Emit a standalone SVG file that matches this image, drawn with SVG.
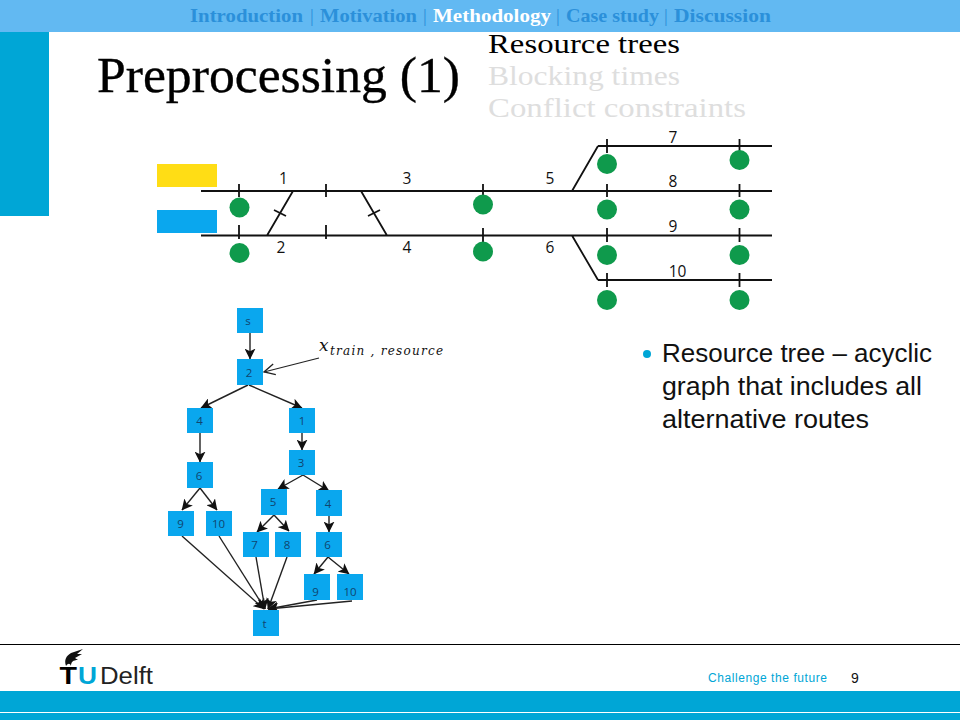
<svg xmlns="http://www.w3.org/2000/svg" width="960" height="720" viewBox="0 0 960 720">
<style>
text{font-family:"Liberation Sans",Arial,sans-serif}
.nav{font-family:"Liberation Serif",serif;font-weight:bold;font-size:19px;fill:#2b90da}
.sep{font-family:"Liberation Serif",serif;font-size:19px;fill:#2b90da}
.sub{font-family:"Liberation Serif",serif;font-size:28px;fill:#dedede}
.trk{stroke:#111;stroke-width:1.8;fill:none}
.sig{fill:#0f9a4c}
.lbl{font-family:"Open Sans",sans-serif;font-size:15.500px;fill:#111;text-anchor:middle}
.box{fill:#0aa7ee}
.nt{font-family:"Open Sans",sans-serif;font-size:11.500px;fill:#10456e;text-anchor:middle}
.e{stroke:#222;stroke-width:1.4;fill:none;marker-end:url(#ah)}
.blt{font-size:25px;fill:#111}
</style>
<defs>
<marker id="ah" viewBox="0 0 10 10" refX="9.500" refY="5" markerWidth="11" markerHeight="11" markerUnits="userSpaceOnUse" orient="auto"><path d="M0 0L10 5L0 10L2.500 5Z" fill="#111"/></marker>
<marker id="oh" viewBox="0 0 12 12" refX="11" refY="6" markerWidth="13" markerHeight="13" markerUnits="userSpaceOnUse" orient="auto"><path d="M1 1L11 6L1 11" fill="none" stroke="#222" stroke-width="1.2"/></marker>
</defs>
<rect width="960" height="720" fill="#fff"/>
<g id="header">
<rect x="0" y="0" width="960" height="32" fill="#62b9f2"/>
<rect x="0" y="32" width="49" height="184" fill="#00a6d6"/>
<text class="nav" x="190" y="22" textLength="113" lengthAdjust="spacingAndGlyphs">Introduction</text>
<text class="sep" x="310" y="22">|</text>
<text class="nav" x="320" y="22" textLength="97" lengthAdjust="spacingAndGlyphs">Motivation</text>
<text class="sep" x="423" y="22">|</text>
<text class="nav" x="433" y="22" textLength="118" lengthAdjust="spacingAndGlyphs" style="fill:#fff">Methodology</text>
<text class="sep" x="556" y="22">|</text>
<text class="nav" x="566" y="22" textLength="93" lengthAdjust="spacingAndGlyphs">Case study</text>
<text class="sep" x="664" y="22">|</text>
<text class="nav" x="674" y="22" textLength="97" lengthAdjust="spacingAndGlyphs">Discussion</text>
<text x="97" y="92" textLength="363" lengthAdjust="spacingAndGlyphs" style="font-family:'Liberation Serif',serif;font-size:50px;fill:#000;stroke:#000;stroke-width:.35">Preprocessing (1)</text>
<text class="sub" x="488" y="53" textLength="192" lengthAdjust="spacingAndGlyphs" style="fill:#000">Resource trees</text>
<text class="sub" x="488" y="85" textLength="192" lengthAdjust="spacingAndGlyphs">Blocking times</text>
<text class="sub" x="488" y="117" textLength="258" lengthAdjust="spacingAndGlyphs">Conflict constraints</text>
</g>
<g id="track-layout">
<rect x="157" y="164" width="60" height="23" fill="#ffdd15"/>
<rect x="157" y="210" width="60" height="23" fill="#0aa7ee"/>
<path class="trk" d="M201 191H772M201 235.500H772M598 146H772M598 280H772M572 191L598 146M572 235.500L598 280M293 191L267 235.500M361 191L387 235.500M274 210L286 216M368 216L380 210"/>
<path class="trk" d="M239 184V197M239 225V239M326 184V197M326 225V239M483 184V197M483 228V242M607 139V153M607 184V197M607 228V242M607 273V287M739.500 139V153M739.500 184V197M739.500 228V242M739.500 273V287"/>
<circle class="sig" cx="239.500" cy="207.500" r="10"/><circle class="sig" cx="239.500" cy="253" r="10"/>
<circle class="sig" cx="483" cy="204.500" r="10"/><circle class="sig" cx="483" cy="251.500" r="10"/>
<circle class="sig" cx="607" cy="164" r="10"/><circle class="sig" cx="739.500" cy="160" r="10"/>
<circle class="sig" cx="607" cy="209.500" r="10"/><circle class="sig" cx="739.500" cy="209.500" r="10"/>
<circle class="sig" cx="607" cy="255" r="10"/><circle class="sig" cx="739.500" cy="255" r="10"/>
<circle class="sig" cx="607" cy="300" r="10"/><circle class="sig" cx="739.500" cy="300" r="10"/>
<text class="lbl" x="283.500" y="184">1</text><text class="lbl" x="281" y="253">2</text>
<text class="lbl" x="407" y="184">3</text><text class="lbl" x="407" y="253">4</text>
<text class="lbl" x="550" y="184">5</text><text class="lbl" x="550" y="253">6</text>
<text class="lbl" x="673" y="143">7</text><text class="lbl" x="673" y="187">8</text>
<text class="lbl" x="673" y="232">9</text><text class="lbl" x="677.500" y="277">10</text>
</g>
<g id="connectors">
<path class="e" d="M250 333V359"/>
<path class="e" d="M248 385L201 408"/>
<path class="e" d="M249 385L302 408"/>
<path class="e" d="M200 433V462"/>
<path class="e" d="M302 433V450"/>
<path class="e" d="M303 475L278 489"/>
<path class="e" d="M303 475L329 491"/>
<path class="e" d="M200 488L182 510"/>
<path class="e" d="M200 488L217 510"/>
<path class="e" d="M274 515L257 532"/>
<path class="e" d="M274 515L289 531"/>
<path class="e" d="M329 516V532"/>
<path class="e" d="M328 557L314 574"/>
<path class="e" d="M328 557L349 574"/>
<path class="e" d="M182 536L264 609"/>
<path class="e" d="M219 536L265 609"/>
<path class="e" d="M256 557L265 609"/>
<path class="e" d="M287 557L268 609"/>
<path class="e" d="M317 600L268 609"/>
<path class="e" d="M352 601L268 609"/>
<path d="M319 358L264 372" stroke="#222" stroke-width="1.200" fill="none" marker-end="url(#oh)"/>
</g>
<g id="node-s"><rect class="box" x="237" y="308" width="26" height="25"/><text class="nt" x="248" y="325">s</text></g>
<g id="node-2"><rect class="box" x="237" y="359" width="26" height="26"/><text class="nt" x="249" y="377">2</text></g>
<g id="node-4a"><rect class="box" x="187" y="408" width="26" height="25"/><text class="nt" x="199.500" y="425">4</text></g>
<g id="node-1"><rect class="box" x="289" y="408" width="26" height="25"/><text class="nt" x="302" y="425">1</text></g>
<g id="node-6a"><rect class="box" x="187" y="462" width="26" height="26"/><text class="nt" x="199" y="480">6</text></g>
<g id="node-3"><rect class="box" x="289" y="450" width="26" height="25"/><text class="nt" x="301" y="467">3</text></g>
<g id="node-9a"><rect class="box" x="168" y="511" width="26" height="25"/><text class="nt" x="180.500" y="528">9</text></g>
<g id="node-10a"><rect class="box" x="206" y="511" width="26" height="25"/><text class="nt" x="218.500" y="528">10</text></g>
<g id="node-5"><rect class="box" x="261" y="489" width="26" height="26"/><text class="nt" x="273" y="506">5</text></g>
<g id="node-4b"><rect class="box" x="316" y="490" width="26" height="26"/><text class="nt" x="328" y="508">4</text></g>
<g id="node-7"><rect class="box" x="243" y="532" width="26" height="25"/><text class="nt" x="254.500" y="549">7</text></g>
<g id="node-8"><rect class="box" x="275" y="532" width="26" height="25"/><text class="nt" x="287" y="549">8</text></g>
<g id="node-6b"><rect class="box" x="316" y="532" width="26" height="25"/><text class="nt" x="327.500" y="549">6</text></g>
<g id="node-9b"><rect class="box" x="304" y="574" width="26" height="26"/><text class="nt" x="315.500" y="596">9</text></g>
<g id="node-10b"><rect class="box" x="337" y="574" width="26" height="26"/><text class="nt" x="350" y="596">10</text></g>
<g id="node-t"><rect class="box" x="253" y="610" width="26" height="26"/><text class="nt" x="264.500" y="628">t</text></g>
<g id="annotation">
<text x="319" y="351" style="font-family:'DejaVu Serif',serif;font-style:italic;font-size:17px;fill:#111">x</text>
<text x="330" y="355" textLength="113" style="font-family:'DejaVu Serif',serif;font-style:italic;font-size:12px;fill:#111">train , resource</text>
</g>
<g id="bullet">
<circle cx="647" cy="354" r="4" fill="#00a6d6"/>
<text class="blt" x="662" y="362" textLength="270" lengthAdjust="spacingAndGlyphs">Resource tree – acyclic</text>
<text class="blt" x="662" y="395" textLength="260" lengthAdjust="spacingAndGlyphs">graph that includes all</text>
<text class="blt" x="662" y="428" textLength="207" lengthAdjust="spacingAndGlyphs">alternative routes</text>
</g>
<g id="footer">
<rect x="0" y="644" width="960" height="1" fill="#000"/>
<rect x="0" y="691" width="960" height="29" fill="#00a6d6"/>
<rect x="0" y="712" width="960" height="1" fill="#fff"/>
<path d="M66 666C64 660 66 656 71 653L83 649L77 654L82 654L75 658L78 660C73 660 71 662 71 666C70 663 68 663 66 666Z" fill="#111"/>
<text x="59.500" y="684" textLength="17.500" lengthAdjust="spacingAndGlyphs" style="font-weight:bold;font-size:23px;fill:#000">T</text>
<text x="78" y="684" textLength="19" lengthAdjust="spacingAndGlyphs" style="font-weight:bold;font-size:23px;fill:#00a6d6">U</text>
<text x="100" y="684" textLength="53" lengthAdjust="spacingAndGlyphs" style="font-size:23px;fill:#222">Delft</text>
<text x="708" y="682" textLength="119" style="font-size:12px;fill:#00a6d6">Challenge the future</text>
<text x="851" y="683" style="font-size:14px;fill:#111">9</text>
</g>
</svg>
